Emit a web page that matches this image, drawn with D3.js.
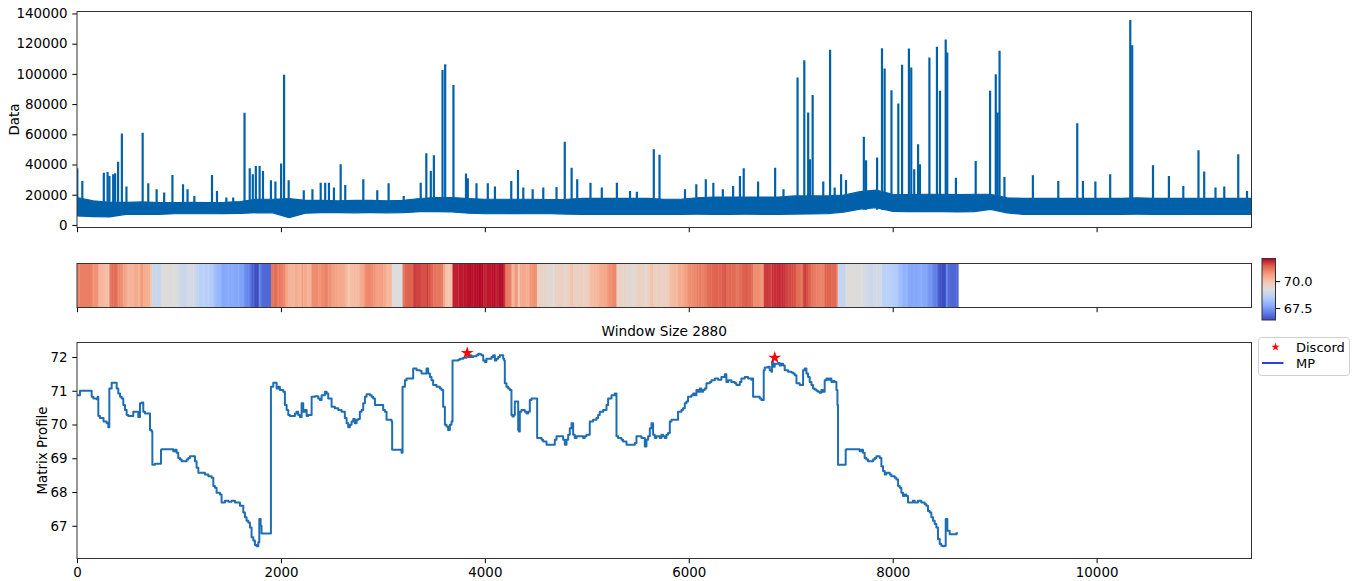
<!DOCTYPE html>
<html>
<head>
<meta charset="utf-8">
<script src="https://cdn.jsdelivr.net/npm/d3@7"></script>
<style>
  body { margin: 0; background: #fff; }
  text { font-family: "DejaVu Sans", sans-serif; fill: #000; }
</style>
</head>
<body>
<svg id="chart" width="1353" height="581"></svg>
<script>
// ---- data ----
// raw series: dense band (lower / upper edge every 160 samples) plus the spikes above it
const bandStep = 160;
const bandLo = [5900,5500,5300,7000,7000,7000,7400,7400,7400,7500,7600,8100,8000,4800,7800,8100,8100,8000,8100,8000,
  8100,8800,8800,8600,7800,7400,7400,7500,7400,7400,7200,7000,7000,6900,7000,7000,7000,7000,7100,7000,
  7000,7100,7000,7000,7200,7300,7500,8500,10500,11500,9000,8800,8800,8800,8600,8800,10300,8000,7000,7000,
  7000,7000,7000,7000,7000,7100,7000,7000,6900,7000,7000,7000,7000];
const bandHi = [18100,16000,15000,15000,15200,14800,14800,15000,14800,15000,15500,17000,17000,17500,16300,16300,16000,16300,16300,16000,
  16300,17500,18100,18100,17500,17000,17000,17000,17000,16800,17000,17600,17600,17600,17600,17600,17000,17000,18000,18500,
  18500,18500,18500,18500,19200,19200,19200,19800,22000,23000,20300,20000,20300,20300,20000,20300,20300,18000,17600,17600,
  17600,17600,17600,17600,17600,18000,17600,17600,17600,17600,17600,17600,17600];
const spikes = [[3,37500],[52,29100],[263,34600],[300,35100],[318,32400],[355,33500],[374,34200],[403,41900],[440,60500],[485,25400],
  [644,61100],[699,27600],[781,23600],[855,21400],[936,33100],[1040,26900],[1084,23600],[1151,19200],[1324,33100],[1373,22500],
  [1465,18100],[1532,18100],[1643,74200],[1694,37500],[1724,33500],[1754,39000],[1791,39000],[1824,35700],[1902,29600],[1946,28700],
  [2002,40600],[2031,99400],[2076,29600],[2224,22900],[2309,23600],[2390,28000],[2434,28000],[2471,28000],[2520,24700],[2586,40200],
  [2631,26500],[2808,30200],[2945,22900],[3056,27600],[3204,19200],[3371,28000],[3426,47400],[3470,35700],[3500,46100],[3585,102500],
  [3611,106400],[3692,92700],[3815,34000],[3833,30900],[3918,27600],[4029,27600],[4099,25400],[4259,29100],[4325,36400],[4377,24700],
  [4469,23600],[4573,24700],[4703,25100],[4784,55000],[4851,37900],[4906,30200],[5036,28000],[5147,24700],[5295,28000],[5424,22500],
  [5491,22000],[5657,50100],[5713,46400],[5963,23600],[6074,26900],[6167,30200],[6241,28000],[6334,23600],[6435,25800],[6502,32400],
  [6539,37500],[6680,28700],[6847,37900],[6929,23600],[7067,97600],[7133,109100],[7171,74400],[7189,43500],[7215,86100],[7319,28700],
  [7386,115900],[7431,24700],[7494,33500],[7542,29800],[7717,58300],[7739,42800],[7847,44600],[7895,117000],[7921,103600],[7988,89200],
  [8055,80400],[8092,106000],[8159,116800],[8182,104200],[8211,36800],[8249,53400],[8267,40200],[8360,110800],[8434,117900],[8464,88800],
  [8520,122800],[8535,114200],[8620,31300],[8814,42400],[8955,88800],[9011,99800],[9029,74400],[9048,115300],[9096,31800],[9375,32900],
  [9624,29100],[9810,67300],[9866,29100],[9988,28700],[10133,33500],[10330,135600],[10349,119000],[10553,39500],[10709,32400],[10850,25800],
  [10999,49400],[11055,35300],[11166,24700],[11252,25400],[11389,46800],[11475,22500]];

// matrix profile, [index, value] where the step changes
const mpProfile = [[0,70.87],[29,71.0],[127,71.0],[144,70.82],[160,70.77],[193,70.75],[203,70.82],[209,70.25],[225,70.19],[260,70.09],
  [291,70.04],[307,69.92],[317,71.07],[340,71.24],[356,71.24],[389,71.07],[405,70.92],[422,70.82],[438,70.77],[454,70.58],
  [471,70.43],[487,70.28],[503,70.25],[536,70.25],[552,70.38],[585,70.38],[601,70.22],[618,70.63],[634,70.65],[650,70.38],
  [667,70.33],[699,70.33],[716,69.84],[732,69.79],[739,68.81],[765,68.84],[814,68.84],[824,69.25],[830,69.27],[928,69.27],
  [944,69.21],[961,69.25],[977,69.16],[993,69.01],[1010,68.96],[1026,68.91],[1059,68.91],[1075,68.96],[1092,69.01],[1108,69.06],
  [1141,69.06],[1157,68.91],[1173,68.72],[1190,68.57],[1239,68.57],[1255,68.52],[1288,68.47],[1320,68.42],[1337,68.18],[1353,68.13],
  [1369,67.98],[1402,67.93],[1418,67.69],[1451,67.74],[1484,67.71],[1516,67.74],[1549,67.69],[1582,67.69],[1598,67.59],[1631,67.39],
  [1647,67.25],[1663,67.15],[1680,67.1],[1696,66.95],[1712,66.66],[1729,66.56],[1745,66.43],[1761,66.39],[1778,66.51],[1788,67.2],
  [1801,67.0],[1810,66.77],[1892,66.77],[1902,71.12],[1925,71.24],[1958,71.07],[1974,71.12],[1990,71.02],[2023,70.97],[2039,70.58],
  [2056,70.43],[2072,70.28],[2088,70.25],[2121,70.25],[2137,70.33],[2154,70.38],[2170,70.28],[2186,70.22],[2203,70.63],[2219,70.38],
  [2235,70.43],[2252,70.25],[2268,70.28],[2301,70.82],[2333,70.84],[2366,70.77],[2382,70.73],[2399,70.87],[2431,70.97],[2448,70.92],
  [2464,70.77],[2497,70.53],[2529,70.48],[2562,70.43],[2595,70.38],[2627,70.19],[2644,70.04],[2660,69.92],[2676,69.99],[2693,70.09],
  [2709,70.16],[2725,70.04],[2742,70.14],[2758,70.16],[2774,70.38],[2791,70.43],[2807,70.63],[2824,70.82],[2840,70.9],[2873,70.87],
  [2889,70.82],[2905,70.77],[2922,70.58],[2954,70.58],[2987,70.58],[3003,70.43],[3020,70.38],[3036,70.14],[3069,70.14],[3085,70.09],
  [3091,69.25],[3167,69.25],[3183,69.16],[3193,71.12],[3216,71.31],[3232,71.36],[3281,71.36],[3297,71.66],[3330,71.61],[3363,71.59],
  [3379,71.51],[3412,71.51],[3428,71.66],[3444,71.51],[3461,71.41],[3477,71.31],[3493,71.17],[3526,71.12],[3559,71.07],[3575,71.02],
  [3591,70.53],[3608,69.99],[3624,69.94],[3640,69.84],[3657,69.99],[3673,70.09],[3683,71.9],[3706,71.9],[3739,71.92],[3755,71.95],
  [3788,71.98],[3820,72.0],[3853,72.05],[3869,72.0],[3886,72.02],[3918,72.05],[3935,72.1],[3951,72.08],[3967,72.05],[3984,71.9],
  [4000,71.85],[4016,71.95],[4049,71.95],[4065,72.0],[4082,72.05],[4098,71.9],[4114,71.95],[4131,72.0],[4147,72.05],[4163,72.05],
  [4180,71.95],[4189,71.9],[4196,71.22],[4212,71.12],[4229,71.07],[4245,71.02],[4261,70.28],[4271,70.24],[4284,70.28],[4294,70.68],
  [4320,70.68],[4327,69.84],[4333,69.79],[4343,70.38],[4359,70.43],[4392,70.38],[4408,70.33],[4425,70.38],[4441,70.73],[4457,70.77],
  [4507,70.77],[4513,69.6],[4539,69.6],[4556,69.55],[4572,69.5],[4605,69.4],[4670,69.4],[4686,69.55],[4703,69.65],[4752,69.65],
  [4768,69.55],[4784,69.4],[4801,69.55],[4817,69.7],[4833,69.89],[4850,70.04],[4866,69.7],[4882,69.6],[4899,69.65],[4964,69.6],
  [4980,69.65],[4997,69.7],[5029,70.09],[5062,70.14],[5095,70.19],[5111,70.28],[5127,70.38],[5160,70.43],[5193,70.58],[5209,70.77],
  [5242,70.87],[5274,70.92],[5284,70.92],[5291,69.65],[5307,69.6],[5340,69.55],[5356,69.5],[5389,69.4],[5454,69.4],[5471,69.45],
  [5487,69.65],[5520,69.65],[5536,69.6],[5552,69.6],[5569,69.35],[5585,69.55],[5601,69.65],[5618,69.89],[5634,70.04],[5650,69.7],
  [5667,69.6],[5683,69.65],[5716,69.6],[5732,69.7],[5748,69.65],[5765,69.6],[5781,69.7],[5797,69.75],[5814,70.09],[5830,70.14],
  [5879,70.14],[5895,70.38],[5928,70.43],[5944,70.48],[5961,70.63],[5977,70.68],[5993,70.82],[6026,70.87],[6043,70.92],[6059,70.87],
  [6075,71.02],[6092,70.97],[6108,71.07],[6124,70.97],[6141,71.02],[6157,71.07],[6173,71.22],[6206,71.26],[6222,71.31],[6255,71.36],
  [6288,71.33],[6320,71.41],[6353,71.49],[6369,71.26],[6386,71.31],[6418,71.26],[6451,71.22],[6467,71.17],[6484,71.17],[6500,71.26],
  [6516,71.36],[6549,71.41],[6582,71.36],[6614,71.33],[6624,71.36],[6631,70.82],[6696,70.77],[6712,70.73],[6729,70.73],[6735,71.61],
  [6745,71.69],[6778,71.71],[6794,71.61],[6810,71.56],[6817,71.85],[6827,71.71],[6843,71.8],[6860,71.8],[6876,71.82],[6892,71.75],
  [6909,71.8],[6925,71.75],[6941,71.61],[6974,71.56],[7007,71.54],[7023,71.51],[7039,71.46],[7056,71.22],[7088,71.17],[7105,71.17],
  [7121,71.61],[7137,71.66],[7154,71.51],[7170,71.41],[7186,71.26],[7203,71.17],[7219,71.07],[7235,71.04],[7252,71.0],[7268,70.97],
  [7284,70.94],[7301,71.02],[7317,70.97],[7333,71.31],[7350,71.36],[7366,71.33],[7382,71.36],[7399,71.26],[7415,71.29],[7431,71.26],
  [7448,71.02],[7458,70.58],[7464,68.81],[7529,68.81],[7539,69.25],[7546,69.27],[7660,69.27],[7676,69.21],[7693,69.25],[7709,69.16],
  [7725,69.01],[7742,68.96],[7758,68.91],[7808,68.96],[7824,69.01],[7840,69.06],[7873,69.01],[7889,68.76],[7905,68.62],[7922,68.52],
  [7938,68.57],[7971,68.52],[7987,68.47],[8020,68.42],[8036,68.37],[8053,68.18],[8069,68.13],[8085,67.98],[8101,67.88],[8118,67.93],
  [8134,67.88],[8150,67.69],[8199,67.74],[8216,67.69],[8248,67.74],[8281,67.69],[8314,67.64],[8330,67.59],[8346,67.44],[8363,67.39],
  [8379,67.25],[8395,67.15],[8412,67.05],[8428,66.95],[8444,66.61],[8461,66.46],[8477,66.41],[8493,66.39],[8510,66.41],[8520,67.2],
  [8536,66.85],[8559,66.75],[8591,66.75],[8624,66.78],[8640,66.78]];
const discords = [[3827,72.12],[6843,71.98]];

const xTicks = [0,2000,4000,6000,8000,10000];
const dataTicks = [0,20000,40000,60000,80000,100000,120000,140000];
const mpTicks = [67,68,69,70,71,72];
const cbarTicks = [67.5,70.0];
const xLimits = [0, 11519];
const dataLimits = [-1700, 141300];
const mpLimits = [66.03, 72.43];
const mpLength = 8641;

// matplotlib "coolwarm"
const coolwarmStops = ['#3b4cc0','#6282ea','#8db0fe','#b8d0f9','#dddddd','#f5c4ac','#f49a7b','#de604d','#b40426'];

const svg = d3.select('#chart');
const left = 77, right = 1251.5;
const top1 = 11.5, bot1 = 227.5;
const top2 = 263.5, bot2 = 307.5;
const top3 = 342.5, bot3 = 558.5;
const fs = '13.4px';

const x = d3.scaleLinear().domain(xLimits).range([left, right]);
const yData = d3.scaleLinear().domain(dataLimits).range([bot1, top1]);
const yMp = d3.scaleLinear().domain(mpLimits).range([bot3, top3]);
const mpVals = mpProfile.map(d => d[1]);
const cExt = d3.extent(mpVals);
const colorT = d3.scaleLinear().domain(cExt).range([0, 1]).clamp(true);
const coolwarm = d3.interpolateRgbBasisClosed ? null : null;
const cw = d3.scaleLinear()
  .domain(coolwarmStops.map((c, i) => i / (coolwarmStops.length - 1)))
  .range(coolwarmStops).interpolate(d3.interpolateRgb);
const color = v => cw(colorT(v));

function styleAxis(g) {
  g.select('.domain').remove();
  g.selectAll('.tick line').attr('stroke', '#000').attr('stroke-width', 1);
  g.selectAll('.tick text').style('font-size', fs).attr('fill', '#000');
}
function frame(y0, y1, x1) {
  svg.append('rect').attr('x', left).attr('y', y0).attr('width', (x1 || right) - left).attr('height', y1 - y0)
    .attr('fill', 'none').attr('stroke', '#333').attr('stroke-width', 1);
}

// ---------- panel 1: raw data ----------
svg.append('clipPath').attr('id', 'c1').append('rect')
  .attr('x', left).attr('y', top1).attr('width', right - left).attr('height', bot1 - top1);
const g1 = svg.append('g').attr('clip-path', 'url(#c1)');
const band = bandLo.map((lo, i) => ({ i: i * bandStep, lo: lo, hi: bandHi[i] }));
g1.append('path').datum(band)
  .attr('fill', '#0061ab').attr('stroke', '#0061ab').attr('stroke-width', 1.2)
  .attr('d', d3.area().x(d => x(d.i)).y0(d => yData(d.lo)).y1(d => yData(d.hi)));
g1.selectAll('line.spike').data(spikes).join('line').attr('class', 'spike')
  .attr('x1', d => x(d[0])).attr('x2', d => x(d[0]))
  .attr('y1', yData(10000)).attr('y2', d => yData(d[1]))
  .attr('stroke', '#0061ab').attr('stroke-width', 2.2);

svg.append('g').attr('transform', `translate(0,${bot1})`)
  .call(d3.axisBottom(x).tickValues(xTicks).tickSize(4.7).tickFormat(''))
  .call(styleAxis);
svg.append('g').attr('transform', `translate(${left},0)`)
  .call(d3.axisLeft(yData).tickValues(dataTicks).tickSize(4.7).tickPadding(4.7).tickFormat(d3.format('d')))
  .call(styleAxis);
frame(top1, bot1);
svg.append('text').attr('transform', `translate(18.5,${(top1 + bot1) / 2}) rotate(-90)`)
  .attr('text-anchor', 'middle').style('font-size', fs).text('Data');

// ---------- panel 2: matrix profile as colour strip ----------
const cells = mpProfile.map((d, i) => ({
  x0: d[0], x1: i < mpProfile.length - 1 ? mpProfile[i + 1][0] : mpLength, v: d[1]
}));
svg.append('g').selectAll('rect').data(cells).join('rect')
  .attr('x', d => x(d.x0)).attr('width', d => x(d.x1) - x(d.x0) + 0.4)
  .attr('y', top2).attr('height', bot2 - top2)
  .attr('fill', d => color(d.v));
svg.append('g').attr('transform', `translate(0,${bot2})`)
  .call(d3.axisBottom(x).tickValues(xTicks).tickSize(4.7).tickFormat(''))
  .call(styleAxis);
frame(top2, bot2);

// colour bar
const cbX = 1262, cbW = 13.5, cbTop = 258.5, cbBot = 320;
const grad = svg.append('defs').append('linearGradient').attr('id', 'cwgrad')
  .attr('x1', 0).attr('y1', 1).attr('x2', 0).attr('y2', 0);
grad.selectAll('stop').data(coolwarmStops).join('stop')
  .attr('offset', (d, i) => i / (coolwarmStops.length - 1)).attr('stop-color', d => d);
svg.append('rect').attr('x', cbX).attr('y', cbTop).attr('width', cbW).attr('height', cbBot - cbTop)
  .attr('fill', 'url(#cwgrad)').attr('stroke', '#333').attr('stroke-width', 1);
const yCb = d3.scaleLinear().domain(cExt).range([cbBot, cbTop]);
svg.append('g').attr('transform', `translate(${cbX + cbW},0)`)
  .call(d3.axisRight(yCb).tickValues(cbarTicks).tickSize(4.7).tickPadding(3.5).tickFormat(d3.format('.1f')))
  .call(styleAxis)
  .call(g => g.selectAll('.tick text').style('font-size', '13px'));

// ---------- panel 3: matrix profile line ----------
svg.append('clipPath').attr('id', 'c3').append('rect')
  .attr('x', left).attr('y', top3).attr('width', right - left).attr('height', bot3 - top3);
const g3 = svg.append('g').attr('clip-path', 'url(#c3)');
g3.append('path').datum(mpProfile)
  .attr('fill', 'none').attr('stroke', '#1f6eb4').attr('stroke-width', 2)
  .attr('stroke-linejoin', 'round')
  .attr('d', d3.line().x(d => x(d[0])).y(d => yMp(d[1])).curve(d3.curveStepAfter));
const star = d3.symbol().type(d3.symbolStar).size(50);
svg.selectAll('path.discord').data(discords).join('path').attr('class', 'discord')
  .attr('transform', d => `translate(${x(d[0])},${yMp(d[1])})`)
  .attr('d', star).attr('fill', 'red');

svg.append('g').attr('transform', `translate(0,${bot3})`)
  .call(d3.axisBottom(x).tickValues(xTicks).tickSize(4.7).tickPadding(4.7).tickFormat(d3.format('d')))
  .call(styleAxis);
svg.append('g').attr('transform', `translate(${left},0)`)
  .call(d3.axisLeft(yMp).tickValues(mpTicks).tickSize(4.7).tickPadding(4.7).tickFormat(d3.format('d')))
  .call(styleAxis);
frame(top3, bot3);
svg.append('text').attr('transform', `translate(46.5,${(top3 + bot3) / 2}) rotate(-90)`)
  .attr('text-anchor', 'middle').style('font-size', fs).text('Matrix Profile');
svg.append('text').attr('x', (left + right) / 2).attr('y', 335.5)
  .attr('text-anchor', 'middle').style('font-size', '13.7px').text('Window Size 2880');

// legend
const lg = svg.append('g').attr('transform', 'translate(1258.5,337.5)');
lg.append('rect').attr('width', 91).attr('height', 38).attr('rx', 3)
  .attr('fill', '#fff').attr('fill-opacity', 0.8).attr('stroke', '#d0d0d0');
lg.append('path').attr('transform', 'translate(17,9.5)')
  .attr('d', d3.symbol().type(d3.symbolStar).size(22)).attr('fill', 'red');
lg.append('text').attr('x', 37.5).attr('y', 14).style('font-size', '13px').text('Discord');
lg.append('line').attr('x1', 3.5).attr('x2', 25).attr('y1', 25.5).attr('y2', 25.5)
  .attr('stroke', '#2b40e0').attr('stroke-width', 2);
lg.append('text').attr('x', 37.5).attr('y', 30.5).style('font-size', '13px').text('MP');
</script>
</body>
</html>
